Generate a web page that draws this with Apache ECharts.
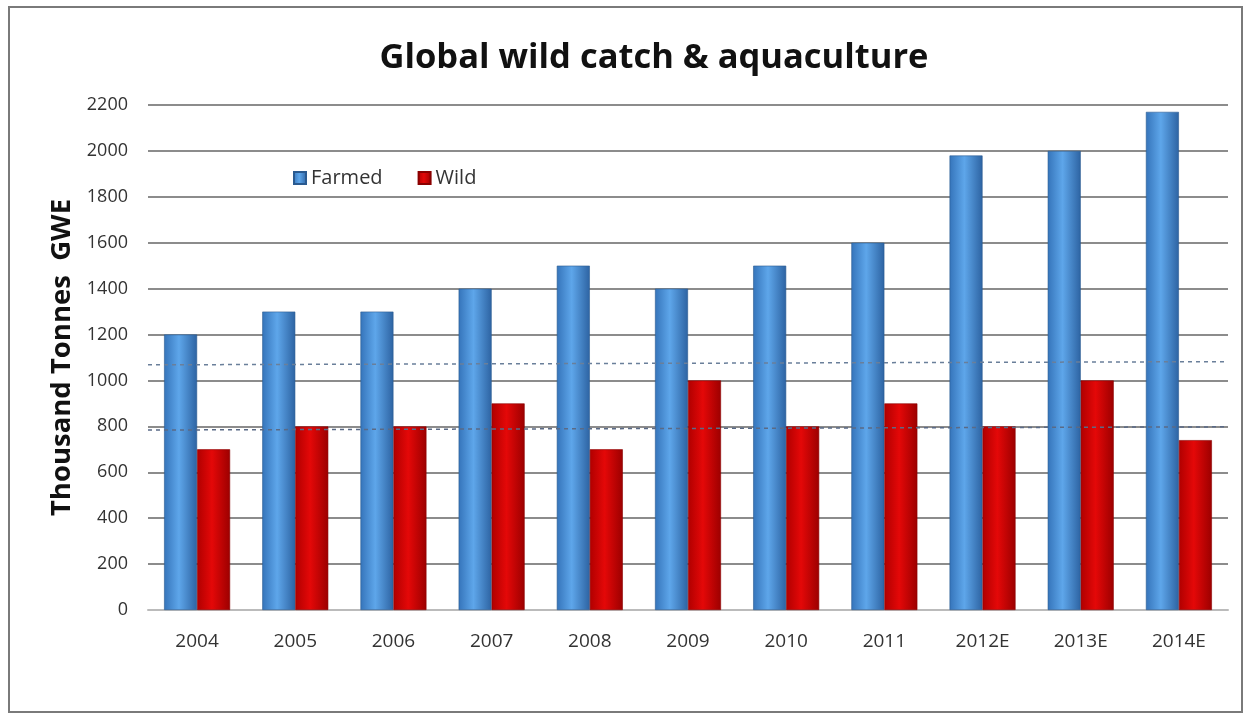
<!DOCTYPE html>
<html>
<head>
<meta charset="utf-8">
<script src="https://cdn.jsdelivr.net/npm/echarts@6/dist/echarts.min.js"></script>
<style>
  html, body { margin: 0; padding: 0; background: #fff; }
  #frame { position: absolute; left: 8px; top: 6px; width: 1235px; height: 707px; border: 2px solid #7a7a7a; box-sizing: border-box; }
  #chart { position: absolute; left: 0; top: 0; width: 1253px; height: 722px; }
</style>
</head>
<body>
<div id="frame"></div>
<div id="chart"></div>
<script>
// Years (E = estimate)
const years = ['2004', '2005', '2006', '2007', '2008', '2009', '2010', '2011', '2012E', '2013E', '2014E'];
// Production, thousand tonnes GWE
const farmed = [1200, 1300, 1300, 1400, 1500, 1400, 1500, 1600, 1980, 2000, 2170];
const wild = [700, 800, 800, 900, 700, 1000, 800, 900, 800, 1000, 740];
// Dashed guide lines: [value at left edge, value at right edge]
const guideUpper = [1068, 1082];
const guideLower = [784, 798];

const font = '"Open Sans", Lato, sans-serif';

function barGradient(dark, light, darker) {
  return new echarts.graphic.LinearGradient(0, 0, 1, 0, [
    { offset: 0, color: dark },
    { offset: 0.45, color: light },
    { offset: 1, color: darker }
  ]);
}

const chart = echarts.init(document.getElementById('chart'));
chart.setOption({
  backgroundColor: 'transparent',
  animation: false,
  title: {
    text: 'Global wild catch & aquaculture',
    left: 649, top: 36, textAlign: 'center',
    textStyle: { fontFamily: font, fontSize: 34.5, fontWeight: 'bold', color: '#111' }
  },
  legend: {
    left: 288, top: 163,
    itemWidth: 12, itemHeight: 12, itemGap: 35,
    icon: 'rect',
    textStyle: { fontFamily: font, fontSize: 20, color: '#333' },
    data: ['Farmed', 'Wild']
  },
  grid: { left: 148, right: 25, top: 105, bottom: 112 },
  xAxis: [{
    type: 'category',
    data: years,
    axisTick: { show: false },
    axisLine: { lineStyle: { color: '#bbb', width: 2 } },
    axisLabel: { fontFamily: font, fontSize: 19, color: '#333', margin: 22 }
  }, {
    type: 'value', min: 0, max: 1, show: false
  }],
  yAxis: {
    type: 'value', min: 0, max: 2200, interval: 200,
    name: 'Thousand Tonnes  GWE',
    nameLocation: 'middle', nameGap: 70, nameRotate: 90,
    nameTextStyle: { fontFamily: font, fontSize: 27.5, fontWeight: 'bold', color: '#111' },
    axisLine: { show: false }, axisTick: { show: false },
    axisLabel: { fontFamily: font, fontSize: 18, color: '#333', margin: 20, formatter: v => String(v) },
    splitLine: { lineStyle: { color: '#8c8c8c', width: 2 } }
  },
  series: [{
    name: 'Farmed', type: 'bar', data: farmed,
    barWidth: 33, barGap: '0%',
    itemStyle: {
      color: barGradient('#3574ba', '#5ea6ea', '#2d63a2'),
      borderColor: '#2a5a90', borderWidth: 0.6
    }
  }, {
    name: 'Wild', type: 'bar', data: wild,
    barWidth: 33, barGap: '0%',
    itemStyle: {
      color: barGradient('#b00000', '#e40808', '#9c0000'),
      borderColor: '#8a0000', borderWidth: 0.6
    }
  }, {
    type: 'line', xAxisIndex: 1, silent: true, symbol: 'none',
    data: [[0, guideUpper[0]], [1, guideUpper[1]]],
    lineStyle: { color: '#6a7f9a', width: 1.5, type: [4, 4] }, z: 5
  }, {
    type: 'line', xAxisIndex: 1, silent: true, symbol: 'none',
    data: [[0, guideLower[0]], [1, guideLower[1]]],
    lineStyle: { color: '#5a6a86', width: 1.5, type: [4, 4] }, z: 5
  }]
});
</script>
</body>
</html>
